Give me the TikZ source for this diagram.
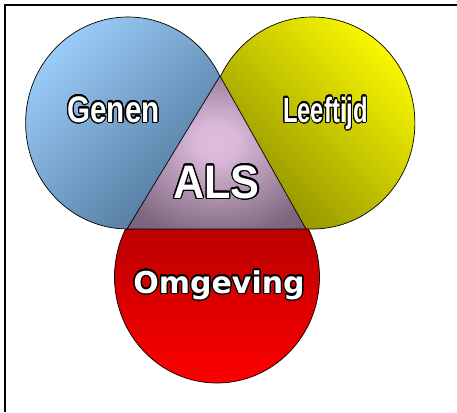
\documentclass[tikz,border=0pt]{standalone}
\usepackage{fontspec}
\usepackage{graphicx}
\usepackage{contour}
\setmainfont{Liberation Sans}
\newfontfamily\heavyfont{DejaVu Sans}
\contourlength{1.3pt}
\contournumber{24}
\definecolor{genenlight}{RGB}{154,203,247}
\definecolor{genendark}{RGB}{78,116,152}
\definecolor{leeftijdlight}{RGB}{248,248,0}
\definecolor{leeftijddark}{RGB}{138,138,0}
\definecolor{omgevingtop}{RGB}{160,0,0}
\definecolor{omgevingbottom}{RGB}{255,0,0}
\pgfdeclareradialshading{alsglow}{\pgfpoint{0bp}{4bp}}{rgb(0bp)=(0.87,0.74,0.87); rgb(6bp)=(0.85,0.72,0.85); rgb(30bp)=(0.50,0.41,0.50); rgb(45bp)=(0.40,0.33,0.41); rgb(60bp)=(0.38,0.31,0.39)}
% white letters with a black rim
\def\outlined#1{{\color{white}\contour{black}{#1}}}

\begin{document}
\begin{tikzpicture}[x=1pt, y=-1pt]
			%%%%% START %%%%%
			\useasboundingbox (0, 0) rectangle (457, 412);
			
			\shadedraw[top color=omgevingtop, bottom color=omgevingbottom, draw=black, line width=0.7pt] (217, 277) ellipse (102.5 and 106);
			\shadedraw[top color=genenlight, bottom color=genendark, shading angle=45, draw=black, line width=0.7pt] (128, 123) ellipse (102.4 and 106);
			\shadedraw[top color=leeftijdlight, bottom color=leeftijddark, shading angle=-45, draw=black, line width=0.7pt] (312.5, 123) ellipse (102.4 and 106);
			
			\shadedraw[shading=alsglow, draw=black, line width=0.7pt] (220, 76) -- (306, 229) -- (127, 229) -- cycle;
			
			\node[anchor=base] (genen) at (113.5, 122) {\fontsize{37}{40}\selectfont\bfseries\scalebox{0.8}[1]{\outlined{Genen}}};
			\node[anchor=base] (leeftijd) at (325.5, 122) {\fontsize{35}{40}\selectfont\bfseries\scalebox{0.68}[1]{\outlined{Leeftijd}}};
			\node[anchor=base] (als) at (216.5, 198) {\fontsize{47}{50}\selectfont\bfseries\scalebox{0.92}[1]{\outlined{ALS}}};
			\node[anchor=base] (omgeving) at (219, 293) {\heavyfont\fontsize{30}{34}\selectfont\bfseries\outlined{Omgeving}};
			
			\draw[line width=2pt] (5, 412) -- (5, 5) -- (457, 5);
			%%%%% END %%%%%
\end{tikzpicture}
\end{document}
